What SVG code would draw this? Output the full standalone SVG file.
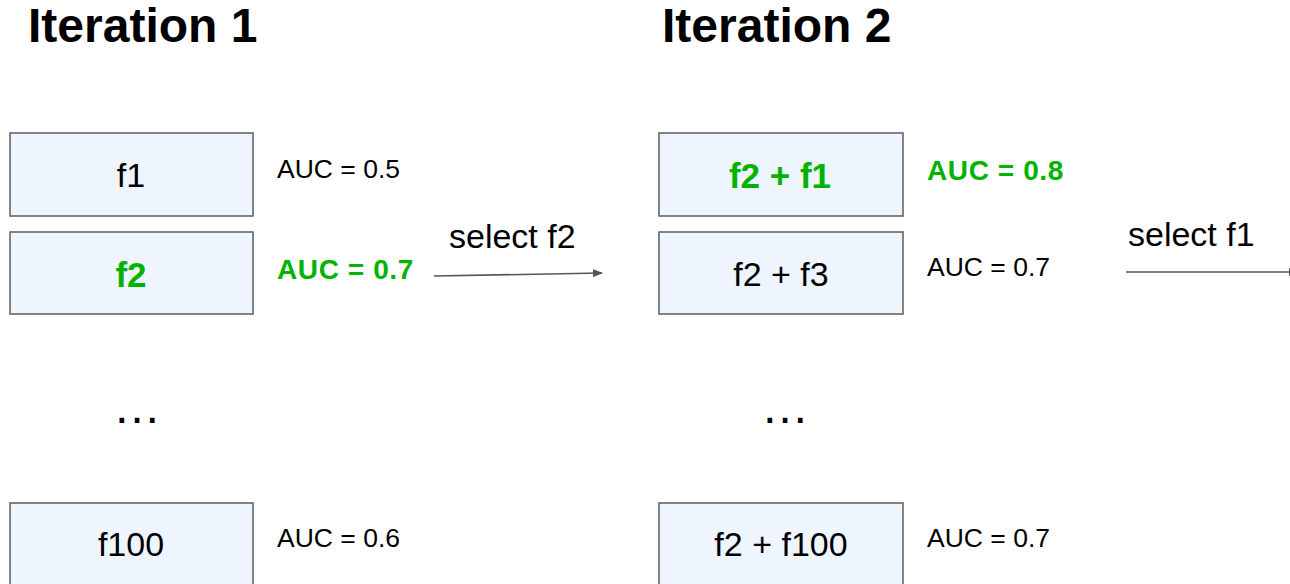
<svg xmlns="http://www.w3.org/2000/svg" width="1290" height="584" viewBox="0 0 1290 584">
  <style>
    .box { fill: #eff5fe; stroke: #666666; stroke-width: 1.6; }
    .title { font-family: "Liberation Sans", Arial, sans-serif; font-weight: bold; font-size: 48px; fill: #000; }
    .lbl { font-family: "Liberation Sans", Arial, sans-serif; font-size: 34px; fill: #000; text-anchor: middle; }
    .lbl.best { font-weight: bold; font-size: 35px; fill: #00b300; }
    .auc { font-family: "Liberation Sans", Arial, sans-serif; font-size: 26.5px; fill: #000; }
    .auc.best { font-weight: bold; font-size: 28px; letter-spacing: 0.6px; fill: #00b300; }
    .step { font-family: "Liberation Sans", Arial, sans-serif; font-size: 34px; fill: #000; }
    .dots { font-family: "Liberation Sans", Arial, sans-serif; font-size: 48px; fill: #000; }
    .conn { stroke: #555555; stroke-width: 1.6; fill: none; }
  </style>
  <defs>
    <marker id="arrow" markerWidth="10" markerHeight="8" refX="9" refY="4" orient="auto" markerUnits="userSpaceOnUse">
      <path d="M0,0 L10,4 L0,8 Z" fill="#555555"/>
    </marker>
  </defs>

  <rect width="1290" height="584" fill="#ffffff"/>

  <!-- column headings -->
  <text class="title" x="28" y="42">Iteration 1</text>
  <text class="title" x="662" y="42">Iteration 2</text>

  <!-- iteration 1 candidates -->
  <g id="node-f1">
    <rect class="box" x="10" y="133" width="243" height="83"/>
    <text class="lbl" x="131" y="187">f1</text>
    <text class="auc" x="277" y="178">AUC = 0.5</text>
  </g>
  <g id="node-f2">
    <rect class="box" x="10" y="232" width="243" height="82"/>
    <text class="lbl best" x="131" y="287">f2</text>
    <text class="auc best" x="277" y="279">AUC = 0.7</text>
  </g>
  <g id="node-f100">
    <rect class="box" x="10" y="503" width="243" height="90"/>
    <text class="lbl" x="131" y="556">f100</text>
    <text class="auc" x="277" y="547">AUC = 0.6</text>
  </g>
  <text class="dots" x="113" y="423">…</text>

  <!-- iteration 2 candidates -->
  <g id="node-f2-f1">
    <rect class="box" x="659" y="133" width="244" height="83"/>
    <text class="lbl best" x="780" y="188">f2 + f1</text>
    <text class="auc best" x="927" y="180">AUC = 0.8</text>
  </g>
  <g id="node-f2-f3">
    <rect class="box" x="659" y="232" width="244" height="82"/>
    <text class="lbl" x="781" y="286">f2 + f3</text>
    <text class="auc" x="927" y="276">AUC = 0.7</text>
  </g>
  <g id="node-f2-f100">
    <rect class="box" x="659" y="503" width="244" height="90"/>
    <text class="lbl" x="781" y="556">f2 + f100</text>
    <text class="auc" x="927" y="547">AUC = 0.7</text>
  </g>
  <text class="dots" x="761" y="423">…</text>

  <!-- selection steps -->
  <g id="connectors">
    <line class="conn" x1="434" y1="276" x2="602" y2="273" marker-end="url(#arrow)"/>
    <text class="step" x="449" y="248">select f2</text>
    <line class="conn" x1="1126" y1="272" x2="1298" y2="272" marker-end="url(#arrow)"/>
    <text class="step" x="1128" y="246">select f1</text>
  </g>
</svg>
